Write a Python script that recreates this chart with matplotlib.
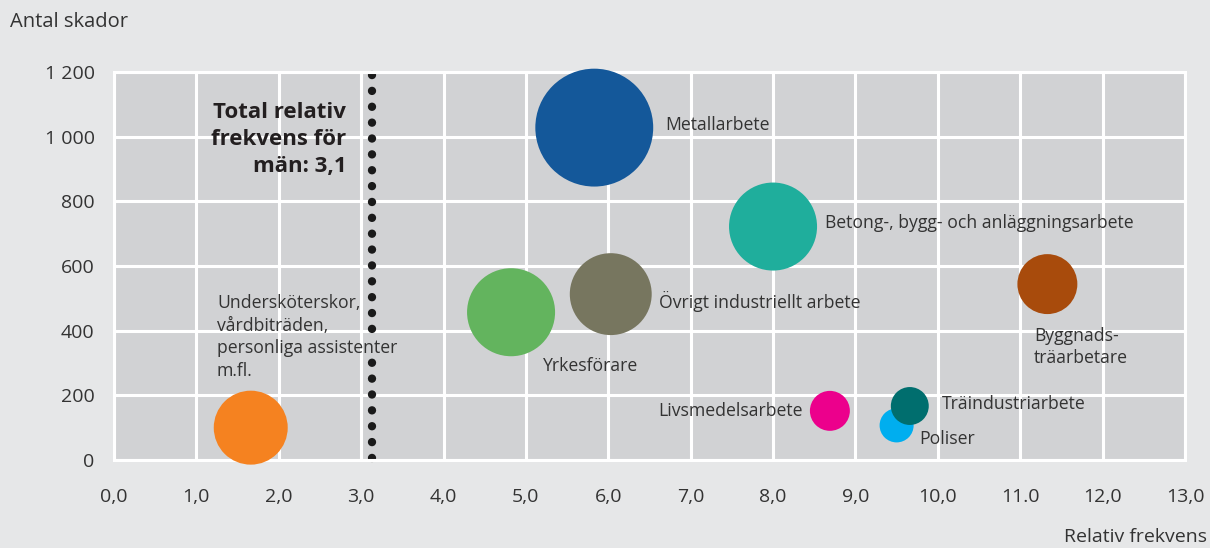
import numpy as np
import matplotlib.pyplot as plt

plt.rcParams['font.family'] = ['Open Sans', 'DejaVu Sans']

# data
yrken = ['Undersköterskor,\nvårdbiträden,\npersonliga assistenter\nm.fl.',
         'Yrkesförare', 'Metallarbete', 'Övrigt industriellt arbete',
         'Betong-, bygg- och anläggningsarbete', 'Livsmedelsarbete',
         'Poliser', 'Träindustriarbete', 'Byggnads-\nträarbetare']
rel_frekvens = [1.66, 4.82, 5.83, 6.03, 8.00, 8.69, 9.50, 9.66, 11.33]
antal_skador = [100, 457, 1028, 513, 722, 152, 107, 167, 544]
bubbla = [137, 194, 348, 168, 194, 40, 29, 36, 90]
farger = ['#f58220', '#63b45e', '#14589a', '#77765f', '#1fae9c',
          '#ec008c', '#00aeef', '#006e6e', '#a84b0c']
total_frekvens = 3.13
x_ticks = np.arange(0, 14)
x_ticklabels = ['0,0', '1,0', '2,0', '3,0', '4,0', '5,0', '6,0', '7,0',
                '8,0', '9,0', '10,0', '11.0', '12,0', '13,0']
y_ticks = [0, 200, 400, 600, 800, 1000, 1200]
y_ticklabels = ['0', '200', '400', '600', '800', '1 000', '1 200']

textfarg = '#333333'
fig = plt.figure(figsize=(12.1, 5.48), dpi=100, facecolor='#e6e7e8')
ax = fig.add_axes([0.0942, 0.1606, 0.8851, 0.708])
ax.set_facecolor('#d1d2d4')
ax.set_xlim(0, 13)
ax.set_ylim(0, 1200)
ax.set_xticks(x_ticks)
ax.set_xticklabels(x_ticklabels)
ax.set_yticks(y_ticks)
ax.set_yticklabels(y_ticklabels)
ax.tick_params(length=0, labelsize=14, colors=textfarg, pad=14)
ax.tick_params(axis='x', pad=20)
ax.grid(True, color='white', linewidth=2.2)
ax.set_axisbelow(True)
for s in ax.spines.values():
    s.set_color('white')
    s.set_linewidth(2.2)

# total relative frequency, dotted line broken where the label sits
for y0, y1 in [(1190, 402), (5, 302)]:
    ax.plot([total_frekvens, total_frekvens], [y0, y1], color='#1a1a1a',
            linewidth=6, linestyle=(0, (0.01, 1.894)), dash_capstyle='round',
            clip_on=False, zorder=2)
ax.text(2.82, 990, 'Total relativ\nfrekvens för\nmän: 3,1', ha='right', va='center',
        fontsize=16, fontweight='bold', color='#231f20', linespacing=1.37)

ax.scatter(rel_frekvens, antal_skador, s=np.array(bubbla) * 20.7, c=farger,
           linewidths=0, clip_on=False, zorder=3)

etiketter = [
    ('left', (1.25, 380)),
    ('left', (5.21, 290)),
    ('left', (6.69, 1036)),
    ('left', (6.61, 490)),
    ('left', (8.63, 733)),
    ('right', (8.36, 152)),
    ('left', (9.78, 64)),
    ('left', (10.05, 174)),
    ('left', (11.17, 350)),
]
for namn, (ha, pos) in zip(yrken, etiketter):
    ax.text(pos[0], pos[1], namn, ha=ha, va='center', fontsize=12.7, color=textfarg,
            linespacing=1.32, zorder=4)

fig.text(10 / 1210, 1 - 22 / 548, 'Antal skador', ha='left', va='center',
         fontsize=14.5, color=textfarg)
fig.text(1207 / 1210, 1 - 537 / 548, 'Relativ frekvens', ha='right', va='center',
         fontsize=14, color=textfarg)

fig.savefig('out.png', dpi=100, facecolor=fig.get_facecolor())
